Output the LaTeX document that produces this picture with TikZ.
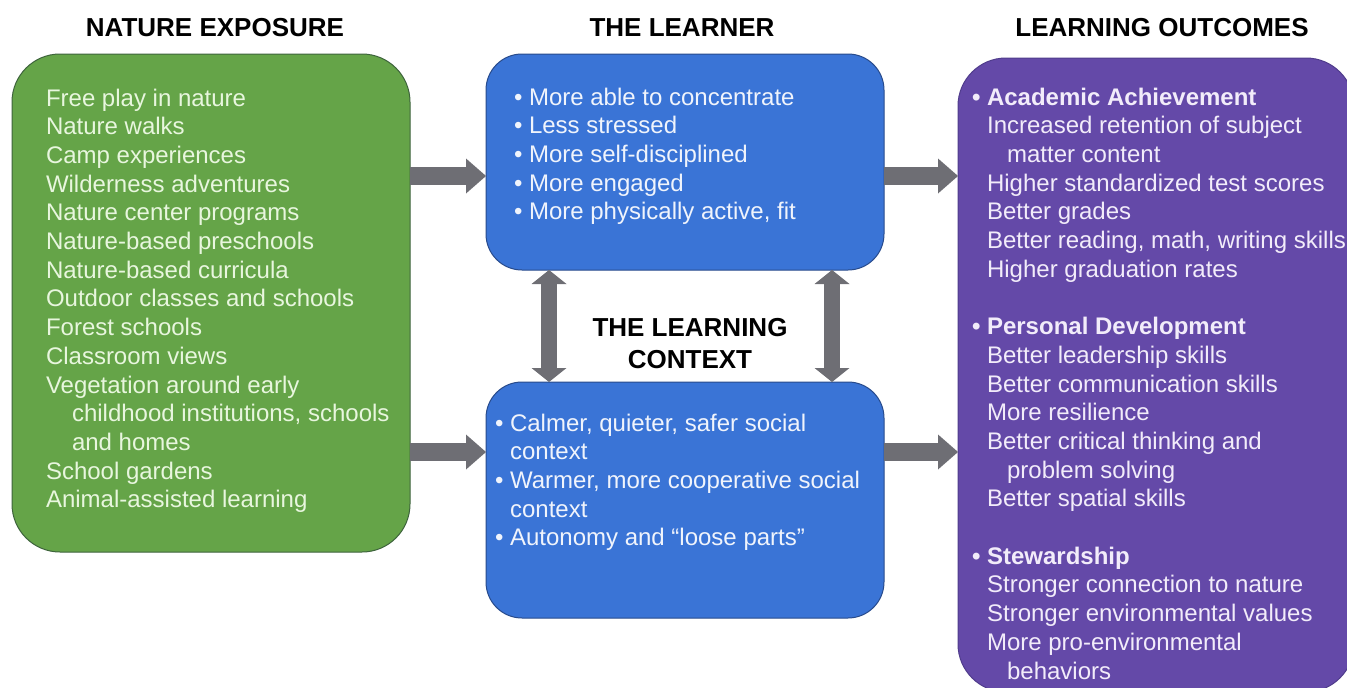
\documentclass[tikz,border=0pt]{standalone}
\usepackage{fontspec}
\setmainfont{Liberation Sans}
\usetikzlibrary{arrows.meta}
\definecolor{gfill}{RGB}{101,164,72}
\definecolor{gline}{RGB}{62,100,60}
\definecolor{bfill}{RGB}{58,116,214}
\definecolor{bline}{RGB}{40,75,140}
\definecolor{pfill}{RGB}{100,73,168}
\definecolor{pline}{RGB}{80,60,140}
\definecolor{agray}{RGB}{110,110,116}
\definecolor{gtext}{RGB}{232,246,222}
\definecolor{btext}{RGB}{240,244,252}
\definecolor{ptext}{RGB}{242,236,250}
\newcommand\tstr{\rule{0pt}{20pt}}
\newcommand\bul{\textbullet\ }
\newcommand\ind{\phantom{\textbullet\ }}
\begin{document}
\begin{tikzpicture}[x=1pt,y=-1pt,
  box/.style={draw, line width=1pt, inner sep=0pt, outer sep=0pt, anchor=north west},
  body/.style={anchor=north west, inner sep=0pt, outer sep=0pt, align=left,
    font=\fontsize{24}{28.7}\selectfont},
  ttl/.style={font=\fontsize{26}{32}\selectfont\bfseries, inner sep=0pt, align=center},
  harrow/.style={draw=agray, line width=18pt,
    -{Triangle[length=20pt 0 0, width=35pt 0 0, line width=0pt]}},
  varrow/.style={draw=agray, line width=16pt,
    {Triangle[length=14pt 0 0, width=35pt 0 0, line width=0pt]}-{Triangle[length=14pt 0 0, width=35pt 0 0, line width=0pt]}}
]
\useasboundingbox (0,0) rectangle (1347,688);
\clip (0,0) rectangle (1347,688);

% boxes
\node[box, fill=gfill, draw=gline, rounded corners=48pt, minimum width=398pt, minimum height=498pt] (g) at (12,54) {};
\node[box, fill=bfill, draw=bline, rounded corners=36pt, minimum width=398pt, minimum height=216pt] (bt) at (486,54) {};
\node[box, fill=bfill, draw=bline, rounded corners=36pt, minimum width=398pt, minimum height=236pt] (bb) at (486,382) {};
\node[box, fill=pfill, draw=pline, rounded corners=48pt, minimum width=396pt, minimum height=634pt] (p) at (958,58) {};

% titles
\node[ttl] (t1) at (215,28) {NATURE EXPOSURE};
\node[ttl] (t2) at (682,28) {THE LEARNER};
\node[ttl] (t3) at (1162,28) {LEARNING OUTCOMES};
\node[ttl, anchor=north] (t4) at (690,318) {THE LEARNING\\CONTEXT};

% green text
\node[body, text=gtext] (gt) at (46,86) {\tstr Free play in nature\\
Nature walks\\
Camp experiences\\
Wilderness adventures\\
Nature center programs\\
Nature-based preschools\\
Nature-based curricula\\
Outdoor classes and schools\\
Forest schools\\
Classroom views\\
Vegetation around early\\
\hspace*{26pt}childhood institutions, schools\\
\hspace*{26pt}and homes\\
School gardens\\
Animal-assisted learning};

% learner text
\node[body, text=btext] (btt) at (514,85) {\tstr\bul More able to concentrate\\
\bul Less stressed\\
\bul More self-disciplined\\
\bul More engaged\\
\bul More physically active, fit};

% context text
\node[body, text=btext] (bbt) at (495,411) {\tstr\bul Calmer, quieter, safer social\\
\ind context\\
\bul Warmer, more cooperative social\\
\ind context\\
\bul Autonomy and “loose parts”};

% outcomes text
\node[body, text=ptext] (pt) at (972,85) {\tstr{\bfseries\bul Academic Achievement}\\
\ind Increased retention of subject\\
\ind\hspace*{20pt}matter content\\
\ind Higher standardized test scores\\
\ind Better grades\\
\ind Better reading, math, writing skills\\
\ind Higher graduation rates\\
\mbox{}\\
{\bfseries\bul Personal Development}\\
\ind Better leadership skills\\
\ind Better communication skills\\
\ind More resilience\\
\ind Better critical thinking and\\
\ind\hspace*{20pt}problem solving\\
\ind Better spatial skills\\
\mbox{}\\
{\bfseries\bul Stewardship}\\
\ind Stronger connection to nature\\
\ind Stronger environmental values\\
\ind More pro-environmental\\
\ind\hspace*{20pt}behaviors};

% arrows
\coordinate (ya) at (0,176);
\coordinate (yb) at (0,452);
\coordinate (xa) at (549,0);
\coordinate (xb) at (832,0);
\draw[harrow] (g.east |- ya) -- (bt.west |- ya);
\draw[harrow] (g.east |- yb) -- (bb.west |- yb);
\draw[harrow] (bt.east |- ya) -- (p.west |- ya);
\draw[harrow] (bb.east |- yb) -- (p.west |- yb);
\draw[varrow] (bt.south -| xa) -- (bb.north -| xa);
\draw[varrow] (bt.south -| xb) -- (bb.north -| xb);
\end{tikzpicture}
\end{document}
